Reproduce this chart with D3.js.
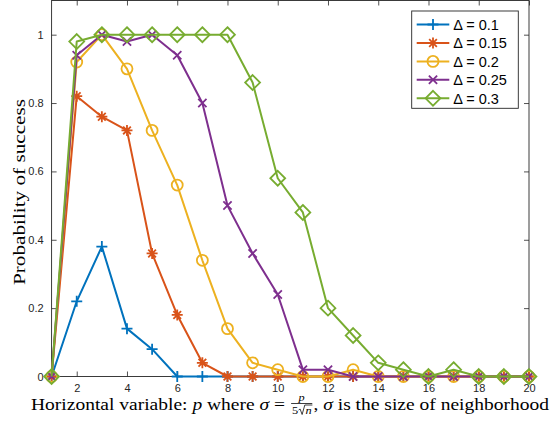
<!DOCTYPE html>
<html>
<head>
<meta charset="utf-8">
<script src="https://cdn.jsdelivr.net/npm/d3@7"></script>
<style>
  html, body { margin: 0; padding: 0; background: #fff; }
  svg { display: block; }
</style>
</head>
<body>
<svg id="chart" width="552" height="426"></svg>
<script>
// Horizontal variable p
const pValues = [1,2,3,4,5,6,7,8,9,10,11,12,13,14,15,16,17,18,19,20];

// Probability of success for each threshold Δ
const success01  = [0,0.22,0.38,0.14,0.08,0,0,0,0,0,0,0,0,0,0,0,0,0,0,0];
const success015 = [0,0.82,0.76,0.72,0.36,0.18,0.04,0,0,0,0,0,0,0,0,0,0,0,0,0];
const success02  = [0,0.92,1.0,0.90,0.72,0.56,0.34,0.14,0.04,0.02,0,0,0.02,0,0,0,0,0,0,0];
const success025 = [0,0.94,1.0,0.98,1.0,0.94,0.80,0.50,0.36,0.24,0.02,0.02,0,0,0,0,0,0,0,0];
const success03  = [0,0.98,1.0,1.0,1.0,1.0,1.0,1.0,0.86,0.58,0.48,0.20,0.12,0.04,0.02,0,0.02,0,0,0];

const seriesLabels = ["Δ = 0.1","Δ = 0.15","Δ = 0.2","Δ = 0.25","Δ = 0.3"];
const seriesValues = [success01, success015, success02, success025, success03];
const seriesColors = ["#0072BD","#D95319","#EDB120","#7E2F8E","#77AC30"];
const seriesMarkers = ["plus","star","circle","cross","diamond"];

const xTicks = [2,4,6,8,10,12,14,16,18,20];
const yTicks = [0,0.2,0.4,0.6,0.8,1];
const yTickLabels = ["0","0.2","0.4","0.6","0.8","1"];

const svg = d3.select("#chart");
const axisColor = "#262626";
const plot = { left: 51.6, right: 529, top: 0.5, bottom: 376.5 };

const x = d3.scaleLinear().domain([1, 20]).range([plot.left, plot.right]);
const y = d3.scaleLinear().domain([0, 1.1]).range([plot.bottom, plot.top]);

// Axes box with inward ticks on all four sides
const tickLen = 5;
const tickFont = "'Liberation Sans', Arial, Helvetica, sans-serif";

const xAxisBottom = d3.axisBottom(x).tickValues(xTicks).tickSize(-tickLen).tickPadding(8);
const xAxisTop = d3.axisTop(x).tickValues(xTicks).tickSize(-tickLen).tickFormat("");
const yAxisLeft = d3.axisLeft(y).tickValues(yTicks).tickSize(-tickLen).tickPadding(8)
  .tickFormat((d, i) => yTickLabels[i]);
const yAxisRight = d3.axisRight(y).tickValues(yTicks).tickSize(-tickLen).tickFormat("");

function styleAxis(g) {
  g.selectAll(".domain").remove();
  g.selectAll(".tick line").attr("stroke", axisColor).attr("stroke-width", 0.8);
  g.selectAll(".tick text").attr("fill", axisColor)
    .style("font-family", tickFont).style("font-size", "11px");
}

svg.append("g").attr("transform", `translate(0,${plot.bottom})`).call(xAxisBottom).call(styleAxis);
svg.append("g").attr("transform", `translate(0,${plot.top})`).call(xAxisTop).call(styleAxis);
svg.append("g").attr("transform", `translate(${plot.left},0)`).call(yAxisLeft).call(styleAxis);
svg.append("g").attr("transform", `translate(${plot.right},0)`).call(yAxisRight).call(styleAxis);

svg.append("rect")
  .attr("x", plot.left).attr("y", plot.top)
  .attr("width", plot.right - plot.left).attr("height", plot.bottom - plot.top)
  .attr("fill", "none").attr("stroke", axisColor).attr("stroke-width", 0.9);

// Marker shapes
function markerPath(type, s) {
  switch (type) {
    case "plus": return `M${-s},0L${s},0M0,${-s}L0,${s}`;
    case "cross": { const c = s * 0.75; return `M${-c},${-c}L${c},${c}M${-c},${c}L${c},${-c}`; }
    case "star": {
      const c = s * 0.7;
      return `M${-s},0L${s},0M0,${-s}L0,${s}M${-c},${-c}L${c},${c}M${-c},${c}L${c},${-c}`;
    }
    case "diamond": { const d = s * 1.35; return `M0,${-d}L${d},0L0,${d}L${-d},0Z`; }
    case "circle": default: return null;
  }
}

function drawMarker(g, type, color, cx, cy, s) {
  if (type === "circle") {
    g.append("circle").attr("cx", cx).attr("cy", cy).attr("r", s)
      .attr("fill", "none").attr("stroke", color).attr("stroke-width", 1.8);
  } else {
    g.append("path").attr("transform", `translate(${cx},${cy})`)
      .attr("d", markerPath(type, s))
      .attr("fill", "none").attr("stroke", color).attr("stroke-width", 1.8)
      .attr("stroke-linejoin", "miter");
  }
}

const line = d3.line().x((d, i) => x(pValues[i])).y(d => y(d));

seriesValues.forEach((vals, k) => {
  const g = svg.append("g");
  g.append("path").datum(vals).attr("d", line)
    .attr("fill", "none").attr("stroke", seriesColors[k]).attr("stroke-width", 2)
    .attr("stroke-linejoin", "round");
  vals.forEach((v, i) => drawMarker(g, seriesMarkers[k], seriesColors[k], x(pValues[i]), y(v), 5.5));
});

// Legend
const legend = { x: 411.7, y: 11, w: 106.6, h: 97.3 };
svg.append("rect").attr("x", legend.x).attr("y", legend.y)
  .attr("width", legend.w).attr("height", legend.h)
  .attr("fill", "#fff").attr("stroke", axisColor).attr("stroke-width", 0.9);
const entryY = d3.scaleLinear().domain([0, 4]).range([24.5, 98.3]);
seriesLabels.forEach((label, k) => {
  const cy = entryY(k);
  const g = svg.append("g");
  g.append("line").attr("x1", 416.7).attr("x2", 449.3).attr("y1", cy).attr("y2", cy)
    .attr("stroke", seriesColors[k]).attr("stroke-width", 2);
  drawMarker(g, seriesMarkers[k], seriesColors[k], 433, cy, 5.5);
  g.append("text").attr("x", 453.3).attr("y", cy).attr("dy", "0.36em")
    .style("font-family", tickFont).style("font-size", "14.5px").attr("fill", "#000")
    .text(label);
});

// Y axis title
const serif = "'Liberation Serif', 'Times New Roman', serif";
svg.append("text")
  .attr("transform", `translate(25,192) rotate(-90)`)
  .attr("text-anchor", "middle")
  .attr("textLength", 186).attr("lengthAdjust", "spacingAndGlyphs")
  .style("font-family", serif).style("font-size", "16.6px").attr("fill", "#000")
  .text("Probability of success");

// X axis title with inline fraction p / (5√n)
const xt = svg.append("g").style("font-family", serif).attr("fill", "#000");
const baseY = 410;
const mainSize = 16.6;
let cursor = 0;
function piece(txt, opts = {}) {
  const t = xt.append("text").attr("x", cursor).attr("y", baseY)
    .style("font-size", (opts.size || mainSize) + "px")
    .style("font-style", opts.italic ? "italic" : "normal")
    .attr("xml:space", "preserve")
    .text(txt);
  cursor += t.node().getComputedTextLength();
  return t;
}
piece("Horizontal variable: ");
piece("p", { italic: true });
piece(" where ");
piece("σ", { italic: true });
piece(" = ");
// fraction
const fracStart = cursor + 1;
const num = xt.append("text").attr("y", baseY - 8.5).style("font-size", "10.5px").style("font-style", "italic").text("p");
const den = xt.append("g");
const d5 = den.append("text").attr("y", baseY + 4).style("font-size", "10.5px").text("5");
const w5 = d5.node().getComputedTextLength();
const rootW = 6;
const dn = den.append("text").attr("y", baseY + 4).style("font-size", "10.5px").style("font-style", "italic").text("n");
const wn = dn.node().getComputedTextLength();
const fracW = w5 + rootW + wn + 1.5;
d5.attr("x", fracStart + 0.8);
const rx = fracStart + 0.8 + w5 + 0.3;
den.append("path")
  .attr("d", `M${rx},${baseY}L${rx + 1.3},${baseY - 1}L${rx + 3},${baseY + 4.5}L${rx + 5.3},${baseY - 5}L${rx + rootW + wn + 0.5},${baseY - 5}`)
  .attr("fill", "none").attr("stroke", "#000").attr("stroke-width", 0.7);
dn.attr("x", rx + rootW);
const wp = num.node().getComputedTextLength();
num.attr("x", fracStart + (fracW - wp) / 2);
xt.append("line").attr("x1", fracStart).attr("x2", fracStart + fracW)
  .attr("y1", baseY - 6.5).attr("y2", baseY - 6.5).attr("stroke", "#000").attr("stroke-width", 0.7);
cursor = fracStart + fracW + 1;
piece(",");
piece(" ");
piece("σ", { italic: true });
piece(" is the size of neighborhood");
const totalW = cursor;
const targetLeft = 31, targetRight = 549;
xt.attr("transform", `translate(${targetLeft},0) scale(${(targetRight - targetLeft) / totalW},1)`);
</script>
</body>
</html>
